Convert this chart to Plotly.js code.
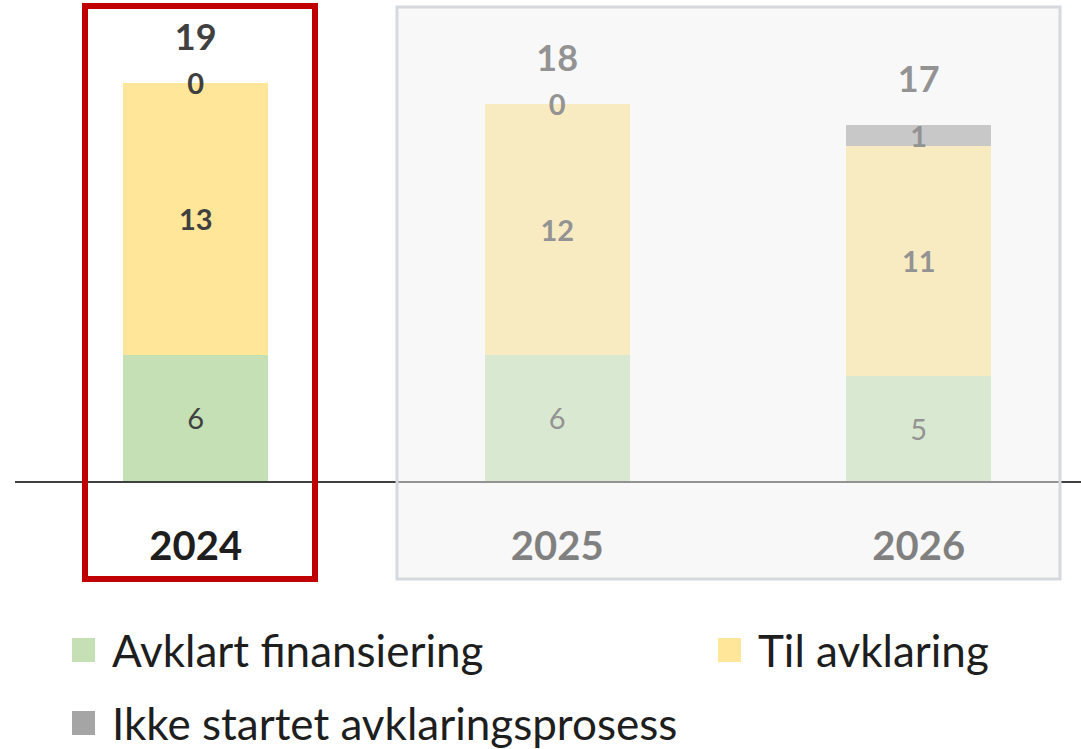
<!DOCTYPE html>
<html>
<head>
<meta charset="utf-8">
<script src="https://cdn.plot.ly/plotly-3.0.1.min.js"></script>
<style>
html,body{margin:0;padding:0;background:#fff;}
#chart{width:1081px;height:749px;}
</style>
</head>
<body>
<div id="chart"></div>
<script>
// ---- data ----
const categories = ['2024', '2025', '2026'];
const avklartFinansiering = [6, 6, 5];
const tilAvklaring = [13, 12, 11];
const ikkeStartet = [0, 0, 1];
const seriesNames = ['Avklart finansiering', 'Til avklaring', 'Ikke startet avklaringsprosess'];
const seriesColors = ['#C5E0B4', '#FFE699', '#A5A5A5'];

// ---- layout geometry (pixels) ----
const W = 1081, H = 749;
const M = {l: 15, r: 0, t: 0, b: 268};
const plotW = W - M.l - M.r, plotH = H - M.t - M.b;
const yMax = 22.96;
const pxPerUnit = plotH / yMax;
const px2x = px => (px - M.l) / plotW;
const px2y = py => (H - M.b - py) / plotH;

const FONT = 'Lato, "Open Sans", sans-serif';
const labelColor = '#404040';

const nudge = 4 / pxPerUnit; // small downward optical nudge for text
const totals = categories.map((_, i) => avklartFinansiering[i] + tilAvklaring[i] + ikkeStartet[i]);
const midGreen = avklartFinansiering.map(v => v / 2 - nudge);
const midYellow = tilAvklaring.map((v, i) => avklartFinansiering[i] + v / 2 - nudge);
const midGrey = ikkeStartet.map((v, i) => avklartFinansiering[i] + tilAvklaring[i] + v / 2 - nudge);
const totalOffset = 42 / pxPerUnit;

const barWidth = 0.401;
const bar = (y, name, color) => ({
  type: 'bar', x: categories, y: y, name: name, width: barWidth,
  marker: {color: color, line: {width: 0}}, hoverinfo: 'skip', showlegend: false
});
const txt = (y, text, size, weight) => ({
  type: 'scatter', mode: 'text', x: categories, y: y, text: text.map(String),
  textposition: 'middle center', cliponaxis: false, hoverinfo: 'skip', showlegend: false,
  textfont: {family: FONT, size: size, color: labelColor, weight: weight}
});

const data = [
  bar(avklartFinansiering, seriesNames[0], seriesColors[0]),
  bar(tilAvklaring, seriesNames[1], seriesColors[1]),
  bar(ikkeStartet, seriesNames[2], seriesColors[2]),
  txt(midGreen, avklartFinansiering, 29, 'normal'),
  txt(midYellow, tilAvklaring, 29, 'bold'),
  txt(midGrey, ikkeStartet, 29, 'bold'),
  txt(totals.map(t => t + totalOffset), totals, 36, 'bold')
];

// ---- shapes: overlay box, highlight box, legend swatches ----
const shapes = [
  {type: 'rect', xref: 'paper', yref: 'paper', layer: 'above',
   x0: px2x(397), x1: px2x(1060), y0: px2y(7), y1: px2y(579),
   fillcolor: 'rgba(240,240,240,0.47)', line: {color: '#D5D8DC', width: 3}},
  {type: 'rect', xref: 'paper', yref: 'paper', layer: 'above',
   x0: px2x(85), x1: px2x(315), y0: px2y(6), y1: px2y(579),
   fillcolor: 'rgba(0,0,0,0)', line: {color: '#C00000', width: 6}}
];
const legendPos = [[72, 638], [718, 638], [72, 711]];
const annotations = [];
seriesNames.forEach((n, i) => {
  const [lx, ly] = legendPos[i];
  shapes.push({type: 'rect', xref: 'paper', yref: 'paper', layer: 'above',
    x0: px2x(lx), x1: px2x(lx + 23), y0: px2y(ly), y1: px2y(ly + 24),
    fillcolor: seriesColors[i], line: {width: 0}});
  annotations.push({xref: 'paper', yref: 'paper', x: px2x(lx + 38), y: px2y(ly + 12),
    xanchor: 'left', yanchor: 'middle', showarrow: false, text: n,
    font: {family: FONT, size: 44, color: '#1E1E1E'}});
});

const layout = {
  width: W, height: H,
  margin: M,
  paper_bgcolor: '#ffffff', plot_bgcolor: 'rgba(0,0,0,0)',
  barmode: 'stack',
  showlegend: false,
  xaxis: {
    type: 'category', range: [-0.5, -0.5 + plotW / 361.5],
    showgrid: false, zeroline: false, showline: true, linecolor: '#404040', linewidth: 2,
    ticks: '', tickvals: categories, ticktext: categories.map(c => '<b>' + c + '</b>'),
    ticklabelstandoff: 29,
    tickfont: {family: FONT, size: 40, color: '#1E1E1E'}
  },
  yaxis: {range: [0, yMax], visible: false, showgrid: false, zeroline: false, fixedrange: true},
  shapes: shapes,
  annotations: annotations
};

Plotly.newPlot('chart', data, layout, {displayModeBar: false, staticPlot: true});
</script>
</body>
</html>
